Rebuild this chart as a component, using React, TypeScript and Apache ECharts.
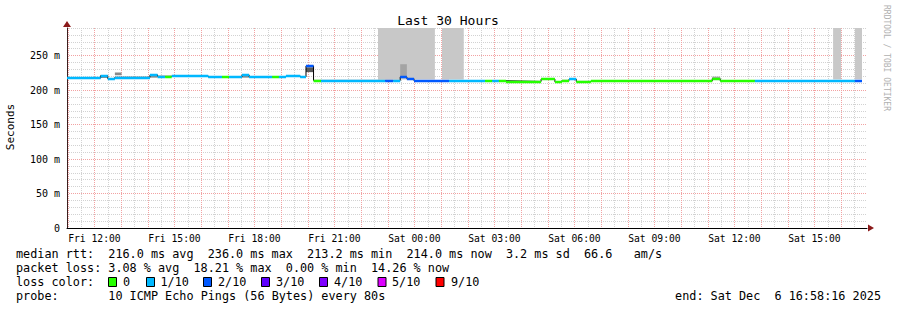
import React, { useEffect, useRef } from "react";
import * as echarts from "echarts";

// time axis: minutes since Fri 00:00
const START_MIN = 658.27; // Fri 10:58:16
const END_MIN = 2458.27; // Sat 16:58:16

const xLabelMinutes = [720, 900, 1080, 1260, 1440, 1620, 1800, 1980, 2160, 2340];
const xLabels = ["Fri 12:00", "Fri 15:00", "Fri 18:00", "Fri 21:00", "Sat 00:00", "Sat 03:00", "Sat 06:00", "Sat 09:00", "Sat 12:00", "Sat 15:00"];

const yTicks = [0, 50, 100, 150, 200, 250];
const yLabels = ["0", "50 m", "100 m", "150 m", "200 m", "250 m"];

const lossColors = ["#26ff00", "#00b8ff", "#0059ff", "#5e00ff", "#7e00ff", "#dd00ff", "#ff0000"];
const lossLabels = ["0", "1/10", "2/10", "3/10", "4/10", "5/10", "9/10"];

// median rtt segments (start minute, median ms, loss class)
const segStart = [658.27, 734, 750, 766, 845, 862, 879, 894, 976, 1007, 1023, 1052, 1068, 1120, 1135, 1151, 1183, 1196, 1213, 1230, 1374, 1392, 1408, 1423, 1439, 1518, 1599, 1615, 1630, 1646, 1725, 1756, 1772, 1788, 1804, 1837, 2094, 2110, 2128, 2206, 2431];
const segMedian = [217.5, 221, 216.5, 218.5, 222, 220, 220, 220.5, 219, 219, 219, 222, 219, 219, 219, 220.5, 219, 235, 214, 214, 214, 214, 219, 216.5, 213.5, 213.5, 213.5, 213.5, 213.5, 212.5, 216, 212, 214, 216, 212.5, 213.5, 213, 216.5, 213.5, 213.5, 213.5];
const segLoss = [1, 1, 1, 1, 1, 1, 0, 1, 1, 0, 1, 1, 1, 0, 1, 1, 1, 2, 0, 1, 2, 1, 2, 2, 2, 1, 0, 1, 0, 0, 0, 0, 0, 1, 0, 0, 0, 0, 0, 1, 2];
const segEnd = 2447;

// smoke blocks (ping spread)
const smokeStart = [734, 766, 845, 1052, 1196, 1408, 2110];
const smokeEnd = [750, 781, 862, 1068, 1213, 1423, 2128];
const smokeLow = [217.5, 221.5, 218, 218, 226, 220.5, 217.5];
const smokeHigh = [220.5, 225.5, 221, 221, 233, 237.5, 219.5];
const smokeShade = [1, 1, 1, 1, 2, 0, 0];
const shadeColors = ["#a4a4a4", "#8a8a8a", "#5a5a5a"];

// smoke reaching above the graph top (outlier pings)
const tallStart = [1358, 1502, 2382, 2431];
const tallEnd = [1486, 1551, 2400, 2447];
const tallLow = [215.5, 215.5, 215.5, 215.5];
const tallHigh = [290, 290, 290, 290];

const statsRtt = ["median rtt:", "216.0 ms avg", "236.0 ms max", "213.2 ms min", "214.0 ms now", "3.2 ms sd", "66.6", "am/s"];
const statsLoss = ["packet loss:", "3.08 % avg", "18.21 % max", "0.00 % min", "14.26 % now"];
const probeText = ["probe:", "10 ICMP Echo Pings (56 Bytes) every 80s"];
const endText = ["end: Sat Dec", "6 16:58:16 2025"];

const MONO = "DejaVu Sans Mono";
const CW = 7.1; // legend character width

export default function App() {
  const ref = useRef<HTMLDivElement>(null);
  useEffect(() => {
    if (!ref.current) return;
    const chart = echarts.init(ref.current, null, { renderer: "svg" });

    const hourMarks: number[] = [];
    const halfMarks: number[] = [];
    for (let m = 660; m <= 2430; m += 30) {
      if (m % 60 === 0) hourMarks.push(m);
      else halfMarks.push(m);
    }
    const yMinor: number[] = [];
    for (let v = 10; v <= 290; v += 10) if (v % 50 !== 0) yMinor.push(v);

    const stepData: number[][] = segStart.map((s, i) => [s, segMedian[i]]);
    stepData.push([segEnd, segMedian[segMedian.length - 1]]);

    const linesData = segStart.map((s, i) => ({
      coords: [
        [s, segMedian[i]],
        [i + 1 < segStart.length ? segStart[i + 1] : segEnd, segMedian[i]],
      ],
      lineStyle: { color: lossColors[segLoss[i]], width: 2.4, opacity: 1 },
    }));

    const smokeData = smokeStart.map((s, i) => [s, smokeEnd[i], smokeLow[i], smokeHigh[i], smokeShade[i]]);
    const tallData = tallStart.map((s, i) => [s, tallEnd[i], tallLow[i], tallHigh[i]]);

    const rectRender = (fillFn: (api: any) => string) => (params: any, api: any) => {
      const a = api.coord([api.value(0), api.value(3)]);
      const b = api.coord([api.value(1), api.value(2)]);
      return {
        type: "rect",
        shape: { x: a[0], y: a[1], width: b[0] - a[0], height: b[1] - a[1] },
        style: { fill: fillFn(api) },
      };
    };

    const t = (x: number, y: number, text: string, extra: any = {}) => ({
      type: "text",
      x,
      y,
      style: { text, fill: "#000", font: `11.8px "${MONO}"`, textVerticalAlign: "middle", ...extra },
    });
    const col = (c: number) => 16 + c * CW;

    const rttCols = [0, 13, 27, 41, 55, 69, 80, 87];
    const lossCols = [0, 13, 25, 38, 50];
    const boxX = [108, 146, 203, 261, 319, 377.5, 435.5];
    const boxLabelX = [123, 160.5, 218, 276, 334, 392, 451];

    const graphics: any[] = [
      t(448, 20, "Last 30 Hours", { font: `13px "${MONO}"`, textAlign: "center" }),
      {
        type: "text",
        x: 10,
        y: 127,
        rotation: Math.PI / 2,
        style: { text: "Seconds", fill: "#000", font: `11px "${MONO}"`, textAlign: "center", textVerticalAlign: "middle" },
      },
      {
        type: "text",
        x: 886,
        y: 5,
        rotation: -Math.PI / 2,
        style: { text: "RRDTOOL / TOBI OETIKER", fill: "#b0b0b0", font: `8px "${MONO}"`, textAlign: "left", textVerticalAlign: "middle" },
      },
      { type: "polygon", shape: { points: [[63, 27], [71, 27], [67, 21]] }, style: { fill: "#8b1a1a" } },
      { type: "polygon", shape: { points: [[868, 224.5], [868, 231.5], [874, 228]] }, style: { fill: "#8b1a1a" } },
    ];
    statsRtt.forEach((s, i) => graphics.push(t(col(rttCols[i]), 254, s)));
    statsLoss.forEach((s, i) => graphics.push(t(col(lossCols[i]), 268, s)));
    graphics.push(t(16, 282, "loss color:"));
    lossLabels.forEach((l, i) => {
      graphics.push({
        type: "rect",
        shape: { x: boxX[i] + 0.5, y: 277.5, width: 8, height: 9 },
        style: { fill: lossColors[i], stroke: "#000", lineWidth: 1 },
      });
      graphics.push(t(boxLabelX[i], 282, l));
    });
    graphics.push(t(16, 296, probeText[0]));
    graphics.push(t(col(13), 296, probeText[1]));
    graphics.push(t(881 - 29 * CW, 296, endText[0]));
    graphics.push(t(881, 296, endText[1], { textAlign: "right" }));

    chart.setOption({
      animation: false,
      backgroundColor: "#fff",
      grid: { left: 67, top: 28, width: 800, height: 200 },
      xAxis: [
        {
          type: "value",
          min: START_MIN,
          max: END_MIN,
          axisLine: { show: true, onZero: false, lineStyle: { color: "#000", width: 1 } },
          axisTick: { show: false, customValues: hourMarks },
          axisLabel: {
            customValues: xLabelMinutes,
            formatter: (v: number) => {
              const i = xLabelMinutes.indexOf(Math.round(v));
              return i >= 0 ? xLabels[i] : "";
            },
            fontFamily: MONO,
            fontSize: 9.7,
            color: "#000",
            margin: 5,
          },
          splitLine: { show: true, lineStyle: { color: "#f2a2a2", width: 1, type: [1, 1] } },
        },
        {
          type: "value",
          min: START_MIN,
          max: END_MIN,
          axisLine: { show: false },
          axisTick: { show: false, customValues: halfMarks },
          axisLabel: { show: false },
          splitLine: { show: true, lineStyle: { color: "#d2d2d2", width: 1, type: [1, 1] } },
        },
      ],
      yAxis: [
        {
          type: "value",
          min: 0,
          max: 290,
          axisLine: { show: true, onZero: false, lineStyle: { color: "#3a1f1f", width: 1 } },
          axisTick: { show: false, customValues: yTicks },
          axisLabel: {
            customValues: yTicks,
            formatter: (v: number) => {
              const i = yTicks.indexOf(Math.round(v));
              return i >= 0 ? yLabels[i] : "";
            },
            fontFamily: MONO,
            fontSize: 10,
            color: "#000",
            margin: 7,
          },
          splitLine: { show: true, lineStyle: { color: "#f2a2a2", width: 1, type: [1, 1] } },
        },
        {
          type: "value",
          min: 0,
          max: 290,
          axisLine: { show: false },
          axisTick: { show: false, customValues: yMinor },
          axisLabel: { show: false },
          splitLine: { show: true, lineStyle: { color: "#d2d2d2", width: 1, type: [1, 1] } },
        },
      ],
      series: [
        {
          type: "custom",
          name: "smoke-tall",
          xAxisIndex: 0,
          yAxisIndex: 0,
          z: 2,
          renderItem: rectRender(() => "#c8c8c8"),
          encode: { x: [0, 1], y: [2, 3] },
          data: tallData,
          silent: true,
        },
        {
          type: "custom",
          name: "smoke",
          xAxisIndex: 0,
          yAxisIndex: 0,
          z: 3,
          renderItem: rectRender((api) => shadeColors[api.value(4)]),
          encode: { x: [0, 1], y: [2, 3] },
          data: smokeData,
          silent: true,
        },
        {
          type: "line",
          name: "median-step",
          xAxisIndex: 0,
          yAxisIndex: 0,
          z: 4,
          step: "end",
          symbol: "none",
          lineStyle: { color: "#000", width: 1 },
          data: stepData,
          silent: true,
        },
        {
          type: "lines",
          name: "median",
          coordinateSystem: "cartesian2d",
          xAxisIndex: 0,
          yAxisIndex: 0,
          z: 6,
          zlevel: 0,
          polyline: false,
          lineStyle: { width: 2.4, opacity: 1 },
          data: linesData,
          silent: true,
        },
      ],
      graphic: graphics,
    });
    return () => chart.dispose();
  }, []);
  return <div ref={ref} style={{ position: "absolute", left: 0, top: 0, width: 897, height: 310 }} />;
}
